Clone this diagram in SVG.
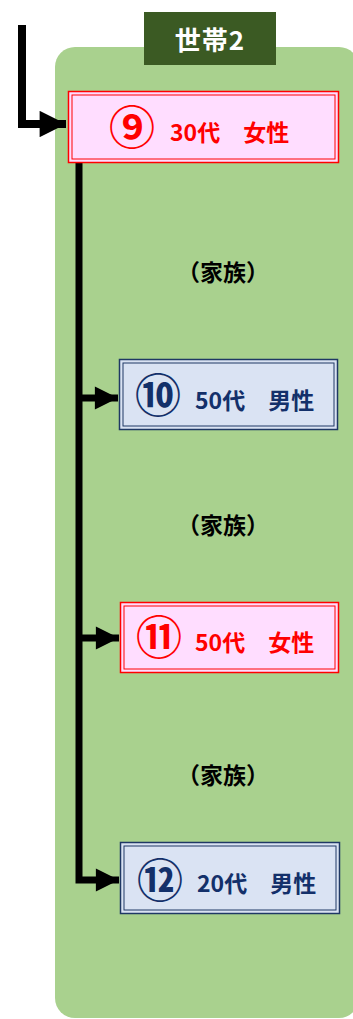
<svg xmlns="http://www.w3.org/2000/svg" width="353" height="1019" viewBox="0 0 353 1019">
<defs>
<style>
.t{font-family:"Noto Sans CJK JP","Noto Sans",sans-serif;font-weight:bold}
.red .o{fill:#FFDDFF;stroke:#FF0000;stroke-width:1.5}
.red .i{fill:none;stroke:#FF0000;stroke-width:1}
.red text{fill:#FF0000}
.blue .o{fill:#DAE3F3;stroke:#1F3864;stroke-width:1.5}
.blue .i{fill:none;stroke:#1F3864;stroke-width:1}
.blue text{fill:#13306A}
.lab{font-size:23px;fill:#000}
.num{font-size:46px}
.nt{font-size:23px}
.ln{fill:none;stroke:#000;stroke-width:7}
</style>
<marker id="ah" viewBox="0 0 10 10" refX="10" refY="5" markerWidth="3.6" markerHeight="3.3" orient="auto" markerUnits="strokeWidth"><path d="M0,0 L10,5 L0,10 Z" fill="#000"/></marker>
</defs>
<rect width="353" height="1019" fill="#fff"/>
<g id="household">
<rect x="55" y="47" width="304" height="971" rx="20" fill="#A9D18E"/>
<rect x="144" y="12" width="132" height="53" fill="#3B5A23"/>
<text class="t" x="210" y="50" font-size="26" fill="#fff" text-anchor="middle" letter-spacing="1">世帯2</text>
</g>
<g id="connectors">
<path class="ln" d="M22,25 V124 H66" marker-end="url(#ah)" style="stroke-width:8"/>
<path class="ln" d="M79,163 V880 H119" marker-end="url(#ah)"/>
<path class="ln" d="M79,398 H118" marker-end="url(#ah)"/>
<path class="ln" d="M79,638 H119" marker-end="url(#ah)"/>
</g>
<g id="n9" class="red">
<rect class="o" x="68.5" y="91.5" width="270" height="71"/>
<rect class="i" x="72" y="95" width="263" height="64"/>
<text class="t num" x="132" y="144" text-anchor="middle">⑨</text>
<text class="t nt" x="170" y="141">30代　女性</text>
</g>
<g id="l1"><text class="t lab" x="223" y="281" text-anchor="middle">（家族）</text></g>
<g id="n10" class="blue">
<rect class="o" x="119.5" y="359.5" width="218" height="70"/>
<rect class="i" x="123" y="363" width="211" height="63"/>
<text class="t num" x="158" y="412" text-anchor="middle">⑩</text>
<text class="t nt" x="195" y="409">50代　男性</text>
</g>
<g id="l2"><text class="t lab" x="223" y="534" text-anchor="middle">（家族）</text></g>
<g id="n11" class="red">
<rect class="o" x="120.5" y="602.5" width="218" height="70"/>
<rect class="i" x="124" y="606" width="211" height="63"/>
<text class="t num" x="159" y="654" text-anchor="middle">⑪</text>
<text class="t nt" x="195" y="651">50代　女性</text>
</g>
<g id="l3"><text class="t lab" x="223" y="784" text-anchor="middle">（家族）</text></g>
<g id="n12" class="blue">
<rect class="o" x="120.5" y="842.5" width="219" height="71"/>
<rect class="i" x="124" y="846" width="212" height="64"/>
<text class="t num" x="160" y="897" text-anchor="middle">⑫</text>
<text class="t nt" x="197" y="892">20代　男性</text>
</g>
</svg>
